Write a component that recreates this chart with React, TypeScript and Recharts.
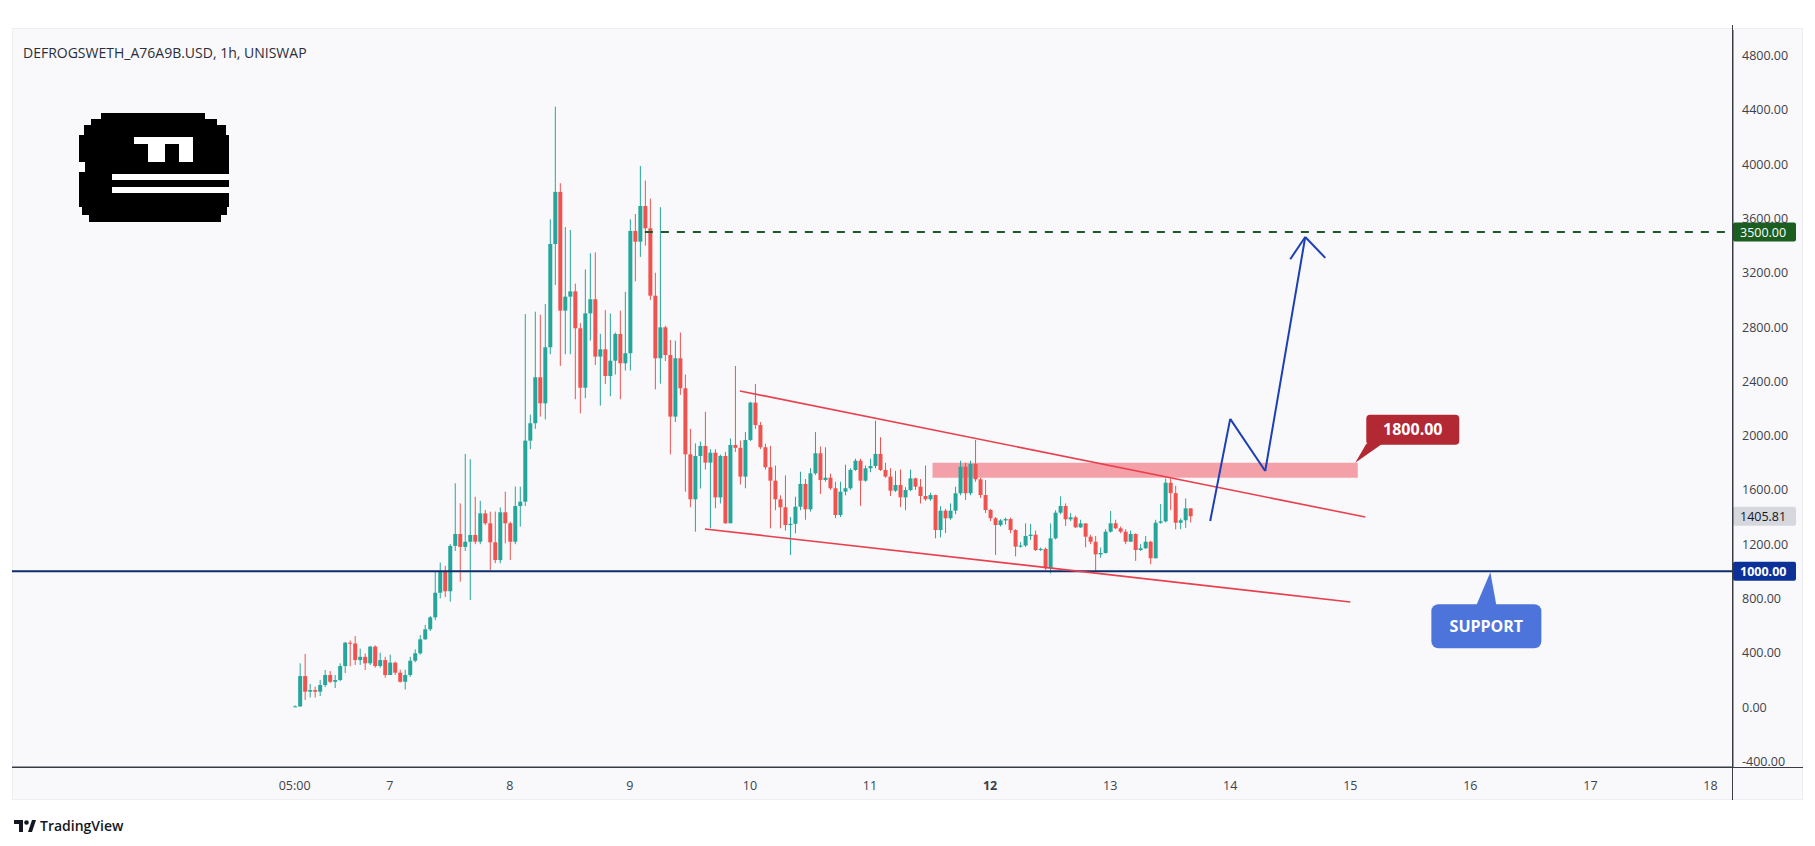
import React from "react";
import {
  ComposedChart,
  Bar,
  XAxis,
  YAxis,
  ReferenceLine,
  ReferenceArea,
  ReferenceDot,
} from "recharts";

// hourly candles, index 0 = day 6 05:00
const opens = [
  0, 5, 228, 113, 125, 113, 162, 236, 186, 199,
  302, 474, 468, 346, 370, 322, 445, 302, 346, 236,
  327, 253, 186, 236, 341, 396, 499, 573, 661, 842,
  997, 853, 1187, 1275, 1180, 1218, 1268, 1218, 1427, 1354,
  1214, 1083, 1435, 1354, 1218, 1481, 1513, 1963, 2091, 2430,
  2238, 2651, 3412, 3796, 2921, 3024, 3063, 2791, 2353, 2901,
  3005, 2582, 2636, 2439, 2552, 2749, 2533, 2607, 3508, 3429,
  3692, 3528, 3031, 2570, 2798, 2594, 2140, 2570, 2349, 1862,
  1531, 1850, 1924, 1801, 1874, 1545, 1850, 1354, 1931, 1910,
  1698, 1968, 2243, 2078, 1914, 1767, 1668, 1531, 1472, 1341,
  1350, 1476, 1644, 1457, 1722, 1870, 1673, 1690, 1612, 1415,
  1587, 1612, 1747, 1815, 1668, 1759, 1776, 1865, 1747, 1698,
  1594, 1636, 1545, 1599, 1685, 1624, 1555, 1531, 1562, 1304,
  1447, 1391, 1447, 1575, 1771, 1575, 1791, 1678, 1562, 1452,
  1391, 1341, 1375, 1385, 1304, 1182, 1190, 1260, 1270, 1157,
  1165, 1022, 1243, 1432, 1481, 1383, 1398, 1324, 1353, 1255,
  1218, 1125, 1135, 1292, 1354, 1317, 1292, 1218, 1275, 1157,
  1170, 1218, 1096, 1358, 1368, 1653, 1576, 1358, 1376, 1464,
];
const highs = [
  12, 322, 391, 170, 150, 199, 273, 265, 236, 322,
  480, 490, 523, 430, 395, 450, 455, 400, 370, 386,
  335, 275, 275, 370, 425, 530, 605, 670, 1000, 1064,
  1040, 1200, 1649, 1501, 1865, 1826, 1550, 1520, 1452, 1440,
  1440, 1471, 1587, 1365, 1624, 1624, 2896, 2155, 2913, 2891,
  2970, 3594, 4424, 3860, 3537, 3515, 3120, 2830, 3225, 3344,
  3350, 2750, 2925, 2900, 2760, 2921, 3060, 3594, 3633, 3987,
  3880, 3746, 3200, 3683, 2810, 2705, 2700, 2760, 2450, 2050,
  1943, 1956, 2176, 1900, 1900, 1860, 1880, 1980, 2513, 1964,
  2026, 2250, 2381, 2100, 1940, 1924, 1780, 1560, 1707, 1400,
  1550, 1734, 1680, 1760, 2026, 1920, 1914, 1720, 1660, 1660,
  1786, 1760, 1830, 1830, 1780, 1830, 2110, 1988, 1800, 1760,
  1740, 1750, 1620, 1750, 1690, 1680, 1780, 1580, 1565, 1480,
  1460, 1500, 1623, 1815, 1800, 1815, 1968, 1690, 1673, 1460,
  1400, 1385, 1395, 1395, 1310, 1215, 1353, 1350, 1300, 1175,
  1175, 1353, 1450, 1552, 1500, 1430, 1410, 1380, 1353, 1270,
  1260, 1175, 1310, 1445, 1380, 1330, 1310, 1300, 1280, 1200,
  1260, 1225, 1380, 1496, 1685, 1685, 1630, 1390, 1538, 1464,
];
const lows = [
  0, 0, 52, 70, 70, 81, 147, 177, 140, 190,
  250, 300, 310, 310, 273, 310, 290, 290, 215, 236,
  236, 180, 130, 222, 330, 385, 495, 560, 640, 800,
  810, 776, 1150, 923, 1150, 789, 1200, 1200, 1340, 1010,
  1060, 1059, 1206, 1083, 1200, 1329, 1480, 1900, 2050, 2140,
  2119, 2600, 3110, 2513, 2600, 2600, 2268, 2164, 2276, 2700,
  2520, 2221, 2380, 2290, 2450, 2268, 2480, 2480, 3137, 3317,
  3400, 3000, 2341, 2383, 2550, 1862, 2100, 2300, 1587, 1472,
  1292, 1610, 1750, 1317, 1464, 1500, 1350, 1354, 1880, 1640,
  1612, 1960, 2050, 1900, 1750, 1317, 1450, 1317, 1300, 1120,
  1280, 1450, 1380, 1440, 1710, 1570, 1660, 1600, 1392, 1400,
  1560, 1600, 1740, 1483, 1660, 1730, 1760, 1740, 1690, 1555,
  1585, 1474, 1450, 1590, 1600, 1500, 1520, 1520, 1243, 1250,
  1282, 1380, 1420, 1560, 1526, 1560, 1660, 1540, 1430, 1370,
  1120, 1330, 1345, 1280, 1110, 1175, 1180, 1230, 1150, 1150,
  1010, 985, 1235, 1420, 1334, 1370, 1320, 1320, 1177, 1200,
  1007, 1100, 1130, 1285, 1310, 1280, 1200, 1218, 1077, 1150,
  1165, 1052, 1096, 1350, 1360, 1451, 1309, 1310, 1320, 1360,
];
const closes = [
  5, 228, 113, 125, 113, 162, 236, 186, 199, 302,
  474, 468, 346, 370, 322, 445, 302, 346, 236, 327,
  253, 186, 236, 341, 396, 499, 573, 661, 842, 997,
  853, 1187, 1275, 1180, 1218, 1268, 1218, 1427, 1354, 1214,
  1083, 1435, 1354, 1218, 1481, 1513, 1963, 2091, 2430, 2238,
  2651, 3412, 3796, 2921, 3024, 3063, 2791, 2353, 2901, 3005,
  2582, 2636, 2439, 2552, 2749, 2533, 2607, 3508, 3429, 3692,
  3528, 3031, 2570, 2798, 2594, 2140, 2570, 2349, 1862, 1531,
  1850, 1924, 1801, 1874, 1545, 1850, 1354, 1931, 1910, 1698,
  1968, 2243, 2078, 1914, 1767, 1668, 1531, 1472, 1341, 1350,
  1476, 1644, 1457, 1722, 1870, 1673, 1690, 1612, 1415, 1587,
  1612, 1747, 1815, 1668, 1759, 1776, 1865, 1747, 1698, 1594,
  1636, 1545, 1599, 1685, 1624, 1555, 1531, 1562, 1304, 1447,
  1391, 1447, 1575, 1771, 1575, 1791, 1678, 1562, 1452, 1391,
  1341, 1375, 1385, 1304, 1182, 1190, 1260, 1270, 1157, 1165,
  1022, 1243, 1432, 1481, 1383, 1398, 1324, 1353, 1255, 1218,
  1125, 1135, 1292, 1354, 1317, 1292, 1218, 1275, 1157, 1170,
  1218, 1096, 1358, 1368, 1653, 1576, 1358, 1376, 1464, 1405.81,
];

const firstSlot = -56;
const lastSlot = 287;
const xTickIndex = [0, 19, 43, 67, 91, 115, 139, 163, 187, 211, 235, 259, 283];
const xTickLabels = ["05:00", "7", "8", "9", "10", "11", "12", "13", "14", "15", "16", "17", "18"];
const yTicks = [-400, 0, 400, 800, 1200, 1600, 2000, 2400, 2800, 3200, 3600, 4000, 4400, 4800];

const targetPrice = 3500;
const supportPrice = 1000;
const resistanceTop = 1800;
const resistanceBottom = 1690;
const upperTrend = [{ i: 89, p: 2329 }, { i: 214, p: 1400 }];
const lowerTrend = [{ i: 82, p: 1312 }, { i: 211, p: 774 }];
const projection = [
  { i: 183, p: 1371 },
  { i: 187, p: 2123 },
  { i: 194, p: 1739 },
  { i: 202, p: 3464 },
];
const arrowWings = [{ i: 199, p: 3300 }, { i: 206, p: 3310 }];

const UP = "#26a69a";
const DOWN = "#ef5350";
const FONT = "'Open Sans', 'Noto Sans', sans-serif";

const data: any[] = [];
for (let i = firstSlot; i <= lastSlot; i++) {
  if (i >= 0 && i < closes.length) {
    data.push({ i, o: opens[i], h: highs[i], l: lows[i], c: closes[i], range: [lows[i], highs[i]] });
  } else {
    data.push({ i });
  }
}
const lastClose = closes[closes.length - 1];

function Candle(props: any) {
  const { x, y, width, height, payload } = props;
  if (!payload || payload.o == null) return null;
  const top = height >= 0 ? y : y + height;
  const h = Math.abs(height);
  const span = payload.h - payload.l || 1;
  const ppu = h / span;
  const color = payload.c >= payload.o ? UP : DOWN;
  const bTop = top + (payload.h - Math.max(payload.o, payload.c)) * ppu;
  const bBot = top + (payload.h - Math.min(payload.o, payload.c)) * ppu;
  const cx = x + width / 2;
  return (
    <g>
      <line x1={cx} x2={cx} y1={top} y2={top + Math.max(h, 1)} stroke={color} strokeWidth={1} />
      <rect x={x} y={bTop} width={width} height={Math.max(1, bBot - bTop)} fill={color} />
    </g>
  );
}

function AxisTag({ viewBox, text, bg, fg, bold }: any) {
  if (!viewBox) return null;
  const x = viewBox.x + viewBox.width;
  const y = viewBox.y;
  return (
    <g>
      <rect x={x} y={y - 9.5} width={63} height={19} rx={2} fill={bg} />
      <text x={x + 7} y={y + 4.5} fontSize={12.5} fontFamily={FONT} fill={fg} fontWeight={bold ? 700 : 400}>
        {text}
      </text>
    </g>
  );
}

function YTick(props: any) {
  const { x, y, payload } = props;
  return (
    <text x={x} y={y + 4.5} fontSize={12.5} fontFamily={FONT} fill="#3d414c" textAnchor="start">
      {Number(payload.value).toFixed(2)}
    </text>
  );
}

function XTick(props: any) {
  const { x, y, payload } = props;
  const k = xTickIndex.indexOf(payload.value);
  const label = k >= 0 ? xTickLabels[k] : "";
  return (
    <text x={x} y={y + 21} fontSize={12.5} fontFamily={FONT} fill="#3d414c" textAnchor="middle"
      fontWeight={label === "12" ? 700 : 400}>
      {label}
    </text>
  );
}

function ResistanceCallout(props: any) {
  const { cx, cy } = props;
  return (
    <g>
      <polygon points={`${cx},${cy} ${cx + 11},${cy - 19} ${cx + 27},${cy - 19}`} fill="#b22833" />
      <rect x={cx + 11} y={cy - 48} width={93} height={30} rx={4} fill="#b22833" />
      <text x={cx + 57.5} y={cy - 27.5} fontSize={16} fontWeight={700} fontFamily={FONT} fill="#fff" textAnchor="middle">
        1800.00
      </text>
    </g>
  );
}

function SupportCallout(props: any) {
  const { cx, cy } = props;
  return (
    <g>
      <polygon points={`${cx},${cy + 1} ${cx - 14},${cy + 34} ${cx + 6},${cy + 34}`} fill="#4d74db" />
      <rect x={cx - 59} y={cy + 33} width={110} height={44} rx={7} fill="#4d74db" />
      <text x={cx - 4} y={cy + 61} fontSize={16} fontWeight={700} fontFamily={FONT} fill="#fff" textAnchor="middle">
        SUPPORT
      </text>
    </g>
  );
}

function Frog() {
  return (
    <svg width={150} height={110} style={{ position: "absolute", left: 79, top: 113 }}>
      <rect x={22} y={0} width={104} height={6} fill="#000" />
      <rect x={12} y={6} width={126} height={6} fill="#000" />
      <rect x={5} y={12} width={142} height={10} fill="#000" />
      <rect x={0} y={22} width={150} height={72} fill="#000" />
      <rect x={3} y={94} width={145} height={8} fill="#000" />
      <rect x={10} y={102} width={132} height={7} fill="#000" />
      <rect x={55} y={24} width={59} height={25} fill="#fff" />
      <rect x={55} y={31} width={14} height={18} fill="#000" />
      <rect x={86} y={31} width={14} height={18} fill="#000" />
      <rect x={0} y={49} width={6} height={10} fill="#fff" />
      <rect x={33} y={61} width={117} height={6} fill="#fff" />
      <rect x={33} y={74} width={117} height={6} fill="#fff" />
    </svg>
  );
}

export default function App() {
  return (
    <div style={{ position: "absolute", left: 0, top: 0, width: 1815, height: 846, background: "#fff", fontFamily: FONT }}>
      <div style={{ position: "absolute", left: 12, top: 28, width: 1791, height: 772, background: "#f9f9fb", border: "1px solid #eceef2", boxSizing: "border-box" }} />
      <div style={{ position: "absolute", left: 1732, top: 25, width: 1, height: 775, background: "#3a3d45" }} />
      <div style={{ position: "absolute", left: 12, top: 767, width: 1791, height: 1, background: "#3a3d45" }} />
      <div style={{ position: "absolute", left: 23, top: 43, fontSize: 14, color: "#2a2e39" }}>
        DEFROGSWETH_A76A9B.USD, 1h, UNISWAP
      </div>
      <Frog />
      <div style={{ position: "absolute", left: 0, top: 0 }}>
        <ComposedChart width={1815} height={846} data={data} margin={{ top: 30, right: 12, bottom: 46, left: 12 }}>
          <XAxis
            dataKey="i"
            type="category"
            ticks={xTickIndex}
            interval={0}
            tick={<XTick />}
            tickLine={false}
            tickSize={0}
            height={33}
            axisLine={{ stroke: "#3a3d45", strokeWidth: 1 }}
          />
          <YAxis
            orientation="right"
            domain={[-442, 4989]}
            ticks={yTicks}
            allowDataOverflow
            width={70}
            tick={<YTick />}
            tickLine={false}
            tickSize={0}
            tickMargin={9}
            axisLine={{ stroke: "#3a3d45", strokeWidth: 1 }}
          />
          <ReferenceLine y={supportPrice} stroke="#0f2c6b" strokeWidth={2} />
          <ReferenceLine
            segment={[{ x: 70, y: targetPrice }, { x: lastSlot, y: targetPrice }]}
            stroke="#1e5a28"
            strokeWidth={2}
            strokeDasharray="8 8"
          />
          <ReferenceArea
            x1={128}
            x2={212}
            y1={resistanceBottom}
            y2={resistanceTop}
            fill="#f4a0a8"
            fillOpacity={1}
            stroke="none"
          />
          <Bar dataKey="range" barSize={4} shape={<Candle />} isAnimationActive={false} />
          <ReferenceLine
            segment={upperTrend.map((d) => ({ x: d.i, y: d.p }))}
            stroke="#e8404e"
            strokeWidth={1.6}
          />
          <ReferenceLine
            segment={lowerTrend.map((d) => ({ x: d.i, y: d.p }))}
            stroke="#e8404e"
            strokeWidth={1.6}
          />
          {projection.slice(1).map((d, k) => (
            <ReferenceLine
              key={`pj-${k}`}
              segment={[{ x: projection[k].i, y: projection[k].p }, { x: d.i, y: d.p }]}
              stroke="#1c3fb5"
              strokeWidth={2}
            />
          ))}
          {arrowWings.map((w, k) => (
            <ReferenceLine
              key={`aw-${k}`}
              segment={[{ x: projection[3].i, y: projection[3].p }, { x: w.i, y: w.p }]}
              stroke="#1c3fb5"
              strokeWidth={2}
            />
          ))}
          <ReferenceDot x={212} y={resistanceTop} r={0} shape={<ResistanceCallout />} />
          <ReferenceDot x={239} y={supportPrice} r={0} shape={<SupportCallout />} />
          <ReferenceLine
            y={targetPrice}
            stroke="none"
            label={(p: any) => <AxisTag viewBox={p.viewBox} text="3500.00" bg="#1b5e20" fg="#fff" />}
          />
          <ReferenceLine
            y={lastClose}
            stroke="none"
            label={(p: any) => <AxisTag viewBox={p.viewBox} text={lastClose.toFixed(2)} bg="#d6d8de" fg="#131722" />}
          />
          <ReferenceLine
            y={supportPrice}
            stroke="none"
            label={(p: any) => <AxisTag viewBox={p.viewBox} text="1000.00" bg="#0c3299" fg="#fff" bold />}
          />
        </ComposedChart>
      </div>
      <div style={{ position: "absolute", left: 14, top: 816, display: "flex", alignItems: "center", gap: 4 }}>
        <svg width={22} height={14}>
          <rect x={0} y={1} width={9} height={4} fill="#131722" />
          <rect x={5} y={1} width={4} height={12} fill="#131722" />
          <circle cx={12.5} cy={3.5} r={2.3} fill="#131722" />
          <polygon points="14,13 18,1 22,1 18,13" fill="#131722" />
        </svg>
        <span style={{ fontSize: 14, color: "#131722", fontWeight: 600 }}>TradingView</span>
      </div>
    </div>
  );
}
